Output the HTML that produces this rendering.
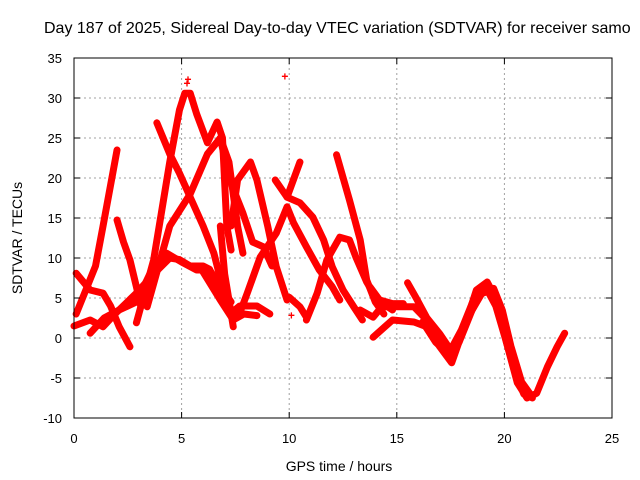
<!DOCTYPE html>
<html><head><meta charset="utf-8"><style>
body{margin:0;background:#fff;}
svg{display:block;font-family:"Liberation Sans",sans-serif;}
</style></head><body>
<svg id="chart" width="640" height="480">
<rect width="640" height="480" fill="#fff"/>
<text x="44" y="33" font-size="16">Day 187 of 2025, Sidereal Day-to-day VTEC variation (SDTVAR) for receiver samo</text>
<g id="grid"></g>
<g id="series"></g>
<rect x="74" y="58" width="538" height="360" fill="none" stroke="#000" stroke-width="1"/>
<g id="ticks"></g>
<text x="339" y="471" font-size="14" text-anchor="middle">GPS time / hours</text>
<text transform="translate(22,238) rotate(-90)" font-size="14" text-anchor="middle">SDTVAR / TECUs</text>
</svg>
<script>
const xTicks=[0,5,10,15,20,25];
const yTicks=[-10,-5,0,5,10,15,20,25,30,35];
const trace1=[[0.1,3],[1,9],[1.35,14],[2,23.5]];
const trace2=[[0.1,8.1],[0.75,6],[1.35,5.6],[1.7,4],[2.1,1.4],[2.6,-1.1]];
const trace3=[[2,14.75],[2.3,12],[2.6,9.75],[2.9,6.4],[3.1,4]];
const trace4=[[2.9,1.9],[3.7,9.75],[4.45,22],[4.9,28.5],[5.15,30.6],[5.4,30.6],[5.7,28],[6.2,24.4],[6.65,27],[6.9,25],[7.1,14],[7.3,11]];
const trace5=[[3.85,26.9],[4.45,23],[4.9,20.6],[5.5,17],[6,14],[6.5,10.6],[6.9,6.4],[7.25,3],[7.7,4],[8.5,4],[9.1,3]];
const trace6=[[0,1.5],[0.75,2.25],[1.35,1.4],[1.9,3],[2.9,5.6],[3.7,8],[4.45,10],[4.9,9.8],[5.4,9],[6,9],[6.3,8.6],[6.65,6.4],[7.1,4],[7.5,3]];
const trace7=[[0.75,0.6],[1.4,2.5],[2.1,3.5],[2.9,4.5],[3.7,9],[4.3,10.6],[5,9.5],[5.7,8.5],[6.3,8.5],[6.8,6.5],[7.3,4.5]];
const trace8=[[3.4,3.9],[4.45,14],[5.4,18],[6.2,23],[6.8,25],[7.2,22],[7.4,18],[7.6,14],[7.85,10.6]];
const trace9=[[6.8,25],[7.2,20],[7.85,15.6],[8.3,12],[8.8,11.4],[9.2,9]];
const trace10=[[7.3,14],[7.6,19.75],[8.2,22],[8.5,19.75],[9,14],[9.4,8.9],[9.9,4.75]];
const trace11=[[9.35,19.75],[9.9,17.6],[10.5,22]];
const trace12=[[9.9,17.6],[10.5,16.9],[11.1,15.1],[11.6,12.25],[12,8.9],[12.5,6],[13,3.9],[13.4,2.25]];
const trace13=[[7.7,3.1],[8.05,5.6],[8.65,10.1],[9.4,13.1],[9.9,16.4],[10.2,14.4],[10.8,11.4],[11.4,8.5],[12,6.4],[12.35,4.75]];
const trace14=[[10,5.1],[10.5,3.9],[10.8,2.6]];
const trace15=[[10.8,2.25],[11.3,5.6],[11.75,9.75],[12.35,12.6],[12.8,12.25],[13.1,10.1],[13.6,7],[14.1,4.75],[14.8,3.5]];
const trace16=[[12.2,22.9],[12.8,17.25],[13.3,12.25],[13.6,7.25],[14,4.5],[14.4,3]];
const trace17=[[5.85,8.9],[6.4,6.5],[6.8,4.75],[7.4,2.25],[7.9,3],[8.5,2.8]];
const trace18=[[6.8,14],[7.0,8],[7.2,4.75],[7.4,1.4]];
const trace19=[[13.3,3.5],[13.9,2.6],[14.3,3.9],[15,3.9],[15.8,3.9],[16.3,2.5],[17,0],[17.55,-2.5],[18.25,2.25],[18.7,6],[19.2,7],[19.65,4.75],[20.1,-0.6],[20.6,-5.6],[21.05,-7.5],[21.5,-6.9],[22,-3.6],[22.45,-1.1],[22.8,0.6]];
const trace20=[[13.9,0.1],[14.8,2.25],[15.8,2],[16.4,1.4],[17,-1.1],[17.55,-3.1],[18.25,2.25],[18.9,5.5],[19.4,6],[19.9,2],[20.4,-3.5],[20.9,-7],[21.3,-7.5]];
const trace21=[[15.5,6.9],[15.9,5],[16.4,2.5],[17,0.5],[17.5,-1.5],[18,1],[18.6,5],[19.1,6.5],[19.6,4],[20.2,-1.5]];
const trace22=[[13.75,6.4],[14.2,4.75],[14.8,4.3],[15.3,4.3]];
const trace23=[[16.2,2],[16.8,-0.5],[17.4,-2],[17.9,-0.5],[18.5,3.5],[19,5.8],[19.5,6.2],[19.9,3.5],[20.3,-1],[20.8,-5.5],[21.2,-7]];
const traceSpike=[[5.25,31.8],[5.3,32.3],[9.8,32.7],[10.1,2.8]];
const allTraces=[trace1,trace2,trace3,trace4,trace5,trace6,trace7,trace8,trace9,trace10,trace11,trace12,trace13,trace14,trace15,trace16,trace17,trace18,trace19,trace20,trace21,trace22,trace23];
const NS='http://www.w3.org/2000/svg';
const X0=74,X1=612,Y0=418,Y1=58;
function xs(v){return X0+(v-0)/(25-0)*(X1-X0);}
function ys(v){return Y0-(v+10)/(35+10)*(Y0-Y1);}
function mk(t,a){const e=document.createElementNS(NS,t);for(const k in a)e.setAttribute(k,a[k]);return e;}
const grid=document.getElementById('grid'),ticks=document.getElementById('ticks'),ser=document.getElementById('series');
xTicks.forEach(v=>{
  const x=xs(v);
  if(v>0&&v<25){const g=mk('line',{x1:x,x2:x,y1:Y1,y2:Y0,stroke:'#a0a0a0','stroke-dasharray':'2,3'});
  
  grid.appendChild(g);}
  const t=mk('line',{x1:x,x2:x,y1:Y0,y2:Y0-6,stroke:'#000'});
  
  ticks.appendChild(t);
  const t2=mk('line',{x1:x,x2:x,y1:Y1,y2:Y1+6,stroke:'#000'});
  
  ticks.appendChild(t2);
  const l=mk('text',{x:x,y:443,'font-size':13,'text-anchor':'middle'});l.textContent=v;
  
  ticks.appendChild(l);
});
yTicks.forEach(v=>{
  const y=ys(v);
  if(v>-10&&v<35){const g=mk('line',{x1:X0,x2:X1,y1:y,y2:y,stroke:'#a0a0a0','stroke-dasharray':'2,3'});
  
  grid.appendChild(g);}
  const t=mk('line',{x1:X0,x2:X0+6,y1:y,y2:y,stroke:'#000'});
  
  ticks.appendChild(t);
  const t2=mk('line',{x1:X1,x2:X1-6,y1:y,y2:y,stroke:'#000'});
  
  ticks.appendChild(t2);
  const l=mk('text',{x:62,y:y+5,'font-size':13,'text-anchor':'end'});l.textContent=v;
  
  ticks.appendChild(l);
});
allTraces.forEach(tr=>{
  const p=mk('polyline',{points:tr.map(d=>xs(d[0])+','+ys(d[1])).join(' '),fill:'none',stroke:'#ff0000','stroke-width':7,'stroke-linejoin':'round','stroke-linecap':'round'});
  
  ser.appendChild(p);
});
traceSpike.forEach(d=>{
  const t=mk('text',{x:xs(d[0]),y:ys(d[1])+4,'font-size':12,'text-anchor':'middle',fill:'#ff0000','font-weight':'bold'});t.textContent='+';
  
  ser.appendChild(t);
});
</script>
</body></html>
